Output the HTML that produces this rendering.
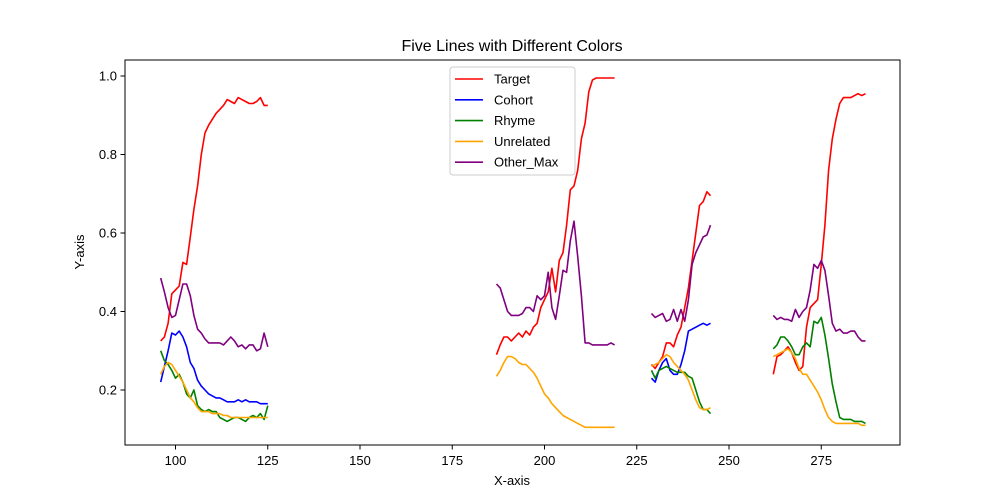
<!DOCTYPE html>
<html><head><meta charset="utf-8"><style>
body{margin:0;background:#fff;}
svg{display:block;font-family:"Liberation Sans","DejaVu Sans",sans-serif;}
</style></head><body>
<svg id="chart" width="1000" height="500">
<rect x="0" y="0" width="1000" height="500" fill="#fff"/>
<text x="512" y="51" text-anchor="middle" font-size="16">Five Lines with Different Colors</text>
<g id="plot"></g>
<rect x="125" y="60" width="775" height="385" fill="none" stroke="#000" stroke-width="1"/>
<g id="axes"></g>
<text x="512" y="485" text-anchor="middle" font-size="13">X-axis</text>
<text x="84" y="252" text-anchor="middle" font-size="13" transform="rotate(-90 84 252)">Y-axis</text>
<g id="legend"></g>
</svg>
<script>
const segStarts = [96, 187, 229, 262];
const seriesNames = ["Target","Cohort","Rhyme","Unrelated","Other_Max"];
const seriesColors = ["red","blue","green","orange","purple"];
const target = [
[0.325,0.335,0.37,0.445,0.455,0.465,0.525,0.52,0.59,0.66,0.72,0.8,0.855,0.875,0.89,0.905,0.915,0.925,0.94,0.935,0.93,0.945,0.94,0.935,0.93,0.93,0.935,0.945,0.925,0.925],
[0.29,0.315,0.335,0.335,0.325,0.335,0.345,0.335,0.35,0.34,0.36,0.37,0.41,0.43,0.45,0.51,0.45,0.53,0.55,0.62,0.71,0.72,0.76,0.84,0.88,0.96,0.99,0.995,0.995,0.995,0.995,0.995,0.995],
[0.265,0.255,0.27,0.285,0.32,0.32,0.31,0.34,0.36,0.41,0.46,0.53,0.6,0.67,0.68,0.705,0.695],
[0.24,0.285,0.29,0.3,0.31,0.295,0.27,0.25,0.26,0.36,0.41,0.42,0.43,0.52,0.62,0.76,0.84,0.89,0.93,0.945,0.945,0.945,0.95,0.955,0.95,0.955]];
const cohort = [
[0.22,0.26,0.3,0.345,0.34,0.35,0.335,0.31,0.27,0.255,0.225,0.21,0.2,0.19,0.185,0.18,0.18,0.175,0.17,0.17,0.17,0.175,0.17,0.175,0.17,0.17,0.17,0.165,0.165,0.165],
[],
[0.23,0.22,0.25,0.27,0.28,0.25,0.24,0.24,0.265,0.3,0.35,0.355,0.36,0.365,0.37,0.365,0.37],
[]];
const rhyme = [
[0.3,0.275,0.265,0.25,0.23,0.24,0.22,0.19,0.18,0.2,0.16,0.15,0.145,0.15,0.145,0.145,0.13,0.125,0.12,0.125,0.13,0.13,0.125,0.12,0.13,0.135,0.13,0.14,0.125,0.16],
[],
[0.25,0.23,0.25,0.255,0.26,0.255,0.25,0.245,0.245,0.245,0.235,0.23,0.2,0.17,0.15,0.15,0.14],
[0.305,0.315,0.335,0.335,0.325,0.31,0.29,0.29,0.31,0.32,0.31,0.375,0.37,0.385,0.34,0.28,0.215,0.17,0.13,0.125,0.125,0.125,0.12,0.12,0.12,0.115]];
const unrelated = [
[0.24,0.26,0.27,0.265,0.25,0.235,0.22,0.2,0.18,0.17,0.155,0.145,0.145,0.145,0.14,0.14,0.14,0.135,0.135,0.13,0.13,0.13,0.13,0.13,0.13,0.13,0.13,0.13,0.13,0.13],
[0.235,0.25,0.27,0.285,0.285,0.28,0.27,0.265,0.265,0.255,0.245,0.23,0.21,0.19,0.18,0.165,0.155,0.145,0.135,0.13,0.125,0.12,0.115,0.11,0.105,0.105,0.105,0.105,0.105,0.105,0.105,0.105,0.105],
[0.26,0.265,0.27,0.28,0.29,0.285,0.27,0.26,0.25,0.24,0.225,0.2,0.175,0.155,0.15,0.15,0.155],
[0.285,0.29,0.295,0.3,0.305,0.295,0.28,0.255,0.24,0.24,0.225,0.21,0.195,0.175,0.15,0.13,0.12,0.115,0.115,0.115,0.115,0.115,0.115,0.115,0.11,0.11]];
const otherMax = [
[0.485,0.45,0.41,0.385,0.39,0.43,0.47,0.47,0.44,0.39,0.355,0.345,0.33,0.32,0.32,0.32,0.32,0.315,0.325,0.335,0.325,0.31,0.315,0.305,0.315,0.315,0.3,0.305,0.345,0.31],
[0.47,0.46,0.43,0.4,0.39,0.39,0.39,0.395,0.41,0.41,0.4,0.44,0.43,0.44,0.5,0.41,0.38,0.44,0.505,0.5,0.58,0.63,0.54,0.44,0.32,0.32,0.315,0.315,0.315,0.315,0.315,0.32,0.315],
[0.395,0.385,0.39,0.395,0.375,0.38,0.405,0.375,0.405,0.375,0.43,0.52,0.55,0.57,0.59,0.595,0.62],
[0.39,0.38,0.385,0.38,0.38,0.375,0.405,0.385,0.4,0.41,0.455,0.52,0.51,0.53,0.505,0.44,0.37,0.35,0.355,0.345,0.345,0.35,0.35,0.335,0.325,0.325]];
const xTicks = [100,125,150,175,200,225,250,275];
const yTicks = [0.2,0.4,0.6,0.8,1.0];
const yTickLabels = ["0.2","0.4","0.6","0.8","1.0"];

const NS = "http://www.w3.org/2000/svg";
function xs(v){ return 175.5 + (v-100)*3.69; }
function ys(v){ return 468.5 - v*392.5; }
function mk(tag, attrs, parent){ const e=document.createElementNS(NS,tag); for(const k in attrs) e.setAttribute(k,attrs[k]); parent.appendChild(e); return e; }

const axes = document.getElementById('axes');
xTicks.forEach(t=>{
  const l = mk('line',{x1:xs(t),x2:xs(t),y1:445,y2:449.5,stroke:'#000'},axes);
  
  
  const tx = mk('text',{x:xs(t),y:465,'text-anchor':'middle','font-size':'13'},axes);
  tx.textContent = String(t);
  
  
});
yTicks.forEach((t,i)=>{
  const l = mk('line',{x1:120.5,x2:125,y1:ys(t),y2:ys(t),stroke:'#000'},axes);
  
  
  const tx = mk('text',{x:117,y:ys(t)+4.5,'text-anchor':'end','font-size':'13'},axes);
  tx.textContent = yTickLabels[i];
  
  
});

const plot = document.getElementById('plot');
const allSeries = [target, cohort, rhyme, unrelated, otherMax];
allSeries.forEach((ser,si)=>{
  ser.forEach((seg,gi)=>{
    if(!seg.length) return;
    const pts = seg.map((v,i)=>xs(segStarts[gi]+i).toFixed(1)+','+ys(v).toFixed(1)).join(' ');
    const p = mk('polyline',{points:pts,fill:'none',stroke:seriesColors[si],'stroke-width':'1.6','stroke-linejoin':'round'},plot);
    
    
  });
});

const lg = document.getElementById('legend');
const box = mk('rect',{x:450,y:67,width:125,height:108,rx:3,fill:'#fff','fill-opacity':'0.8',stroke:'#ccc'},lg);


seriesNames.forEach((n,i)=>{
  const y = 79 + i*20.8;
  const l = mk('line',{x1:455,x2:483,y1:y,y2:y,stroke:seriesColors[i],'stroke-width':'1.6'},lg);
  
  
  const t = mk('text',{x:494,y:y+4.5,'font-size':'13'},lg);
  t.textContent = n;
  
  
});
</script>
</body></html>
